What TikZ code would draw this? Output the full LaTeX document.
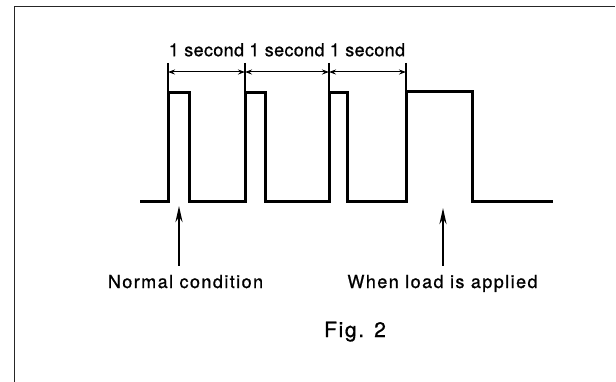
\documentclass[tikz,border=0pt]{standalone}
\usepackage{fontspec}
\setmainfont{TeX Gyre Heros}
\newfontfamily\seclabfont{TeX Gyre Heros}[FakeBold=0.9, LetterSpace=2]
\newfontfamily\lowlabfont{TeX Gyre Heros}[FakeBold=0.9, LetterSpace=8]
\usetikzlibrary{arrows.meta}

\begin{document}
\begin{tikzpicture}[x=1pt, y=-1pt,
  wave/.style={line width=3pt, line join=miter},
  ext/.style={line width=1.1pt},
  dim/.style={{Stealth[length=7pt,width=5pt]}-{Stealth[length=7pt,width=5pt]}, line width=1pt},
  arr/.style={-{Stealth[length=16pt,width=7pt]}, line width=2.4pt, shorten <=8pt},
  seclab/.style={font=\fontsize{18}{20}\seclabfont, inner sep=1pt},
  lowlab/.style={font=\fontsize{18}{20}\lowlabfont, inner sep=1pt, anchor=base},
  figlab/.style={font=\fontsize{21}{24}\lowlabfont, inner sep=1pt, anchor=base}]

  \useasboundingbox (0,0) rectangle (616,382);

  % ----- frame -----
  \draw[line width=0.9pt, black!85] (14,382) -- (14,6.5) -- (615,6.5);

  % ----- pulse train -----
  \draw[wave] (140,202) -- (168,202) -- (168,93) -- (189,93) -- (189,202)
    -- (245,202) -- (245,93) -- (265,93) -- (265,202)
    -- (329,202) -- (329,93) -- (347,93) -- (347,202)
    -- (406,202) -- (406,92) -- (472,92) -- (472,202) -- (553,202);

  % ----- 1 second marks -----
  \foreach \i/\x in {0/168,1/245,2/329,3/406} {
    \coordinate (t\i) at (\x,72);
    \draw[ext] (\x,63) -- (\x,93);
  }
  \foreach \i/\j in {0/1,1/2,2/3}
    \draw[dim] (t\i) -- node[seclab, above=14pt] (sec\i) {1 second} (t\j);

  % ----- labels below -----
  \node[lowlab] (normal) at (185.5,288) {Normal condition};
  \node[lowlab] (load) at (442.5,288) {When load is applied};
  \node[figlab] (fig) at (355,337) {Fig. 2};

  \coordinate (normtip) at (179,206);
  \coordinate (loadtip) at (443,208);
  \draw[arr] (normal.north -| normtip) -- (normtip);
  \draw[arr] (load.north -| loadtip) -- (loadtip);

\end{tikzpicture}
\end{document}
